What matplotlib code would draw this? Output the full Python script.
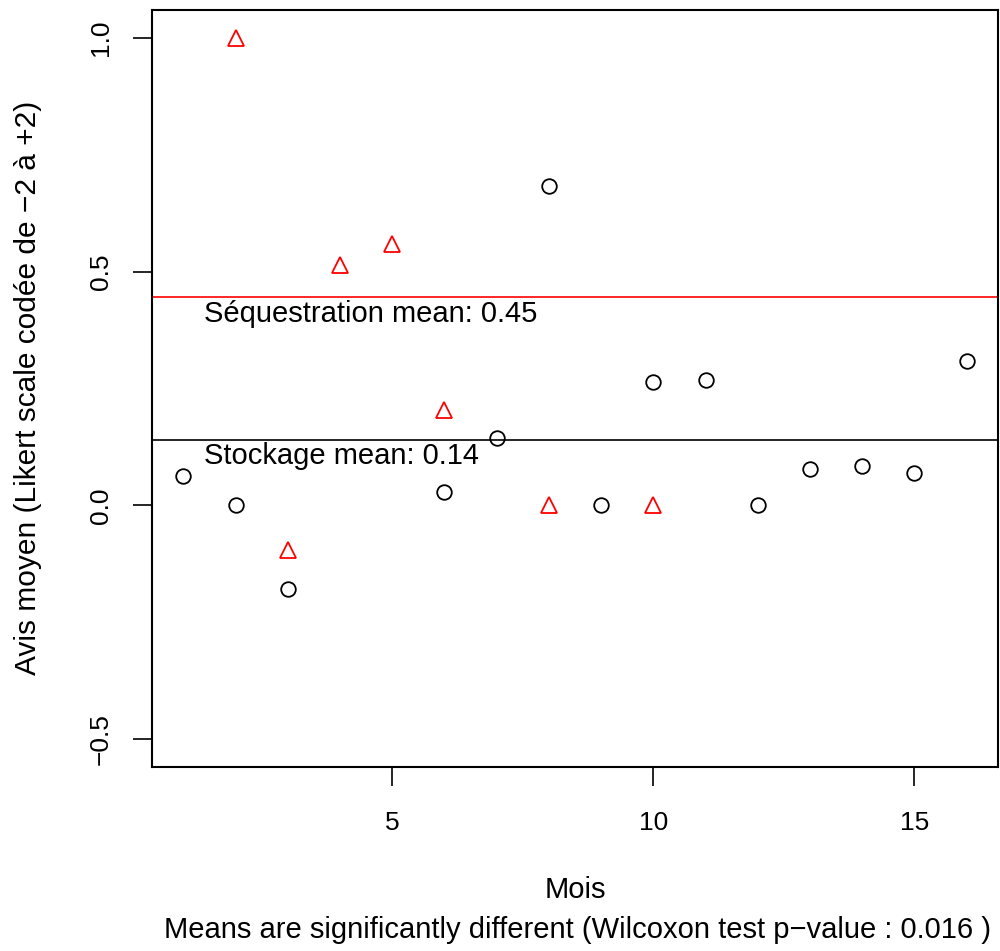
import matplotlib.pyplot as plt
import numpy as np

plt.rcParams['font.family'] = ['Liberation Sans', 'DejaVu Sans']

# Stockage (black circles)
stock_mois = [1, 2, 3, 6, 7, 8, 9, 10, 11, 12, 13, 14, 15, 16]
stock_avis = [0.062, 0.0, -0.18, 0.028, 0.143, 0.684, 0.0, 0.263, 0.269, 0.0, 0.077, 0.085, 0.07, 0.308]

# Séquestration (red triangles)
seq_mois = [2, 3, 4, 5, 6, 8, 10]
seq_avis = [1.0, -0.096, 0.515, 0.56, 0.205, 0.0, 0.0]

stock_mean = 0.14
seq_mean = 0.445

xticks = [5, 10, 15]
yticks = [-0.5, 0.0, 0.5, 1.0]

fig = plt.figure(figsize=(10, 9.51), dpi=100)
ax = fig.add_axes([0.152, 0.1935, 0.846, 0.7960])

ax.plot(stock_mois, stock_avis, 'o', mfc='none', mec='black', ms=10.5, mew=1.3)
ax.plot(seq_mois, seq_avis, '^', mfc='none', mec='red', ms=11.5, mew=1.3)

ax.axhline(seq_mean, color='red', lw=1.2)
ax.axhline(stock_mean, color='black', lw=1.2)

ax.text(1.4, seq_mean - 0.035, 'Séquestration mean: 0.45', fontsize=21, va='center', ha='left')
ax.text(1.4, stock_mean - 0.035, 'Stockage mean: 0.14', fontsize=21, va='center', ha='left')

ax.set_xlim(0.4, 16.6)
ax.set_ylim(-0.56, 1.06)
ax.set_xticks(xticks)
ax.set_xticklabels([str(t) for t in xticks])
ax.set_yticks(yticks)
ax.set_yticklabels(['\u22120.5', '0.0', '0.5', '1.0'], rotation=90, va='center')
ax.tick_params(length=14, width=1.2, labelsize=19, pad=14)
ax.tick_params(axis='x', pad=18)
for s in ax.spines.values():
    s.set_linewidth(1.5)

fig.text(0.575, 1 - 890 / 951, 'Mois', fontsize=21, ha='center', va='center')
fig.text(0.577, 1 - 930 / 951, 'Means are significantly different (Wilcoxon test p\u2212value : 0.016 )',
         fontsize=21, ha='center', va='center')
fig.text(0.028, 1 - 388 / 951, 'Avis moyen (Likert scale codée de \u22122 à +2)', fontsize=21.5,
         rotation=90, ha='center', va='center')

fig.savefig('out.png', dpi=100)
